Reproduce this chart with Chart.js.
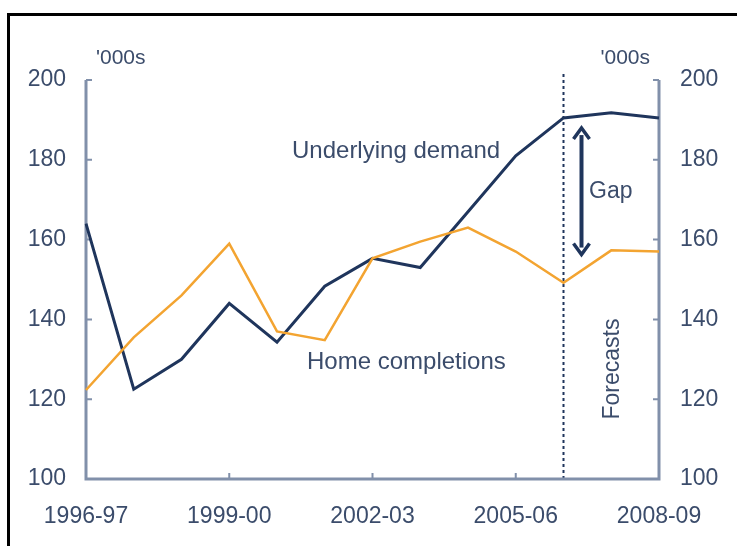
<!DOCTYPE html>
<html>
<head>
<meta charset="utf-8">
<script src="https://cdn.jsdelivr.net/npm/chart.js@4"></script>
<style>
  html, body { margin: 0; padding: 0; background: #fff; }
  #wrap { position: relative; width: 737px; height: 546px; }
  #frame { position: absolute; left: 7px; top: 13px; right: 0; bottom: 0;
           border-top: 3px solid #000; border-left: 3px solid #000; pointer-events: none; }
</style>
</head>
<body>
<div id="wrap">
  <canvas id="c" width="737" height="546"></canvas>
  <div id="frame"></div>
</div>
<script>
// financial years
var years = ['1996-97', '1997-98', '1998-99', '1999-00', '2000-01', '2001-02', '2002-03',
  '2003-04', '2004-05', '2005-06', '2006-07', '2007-08', '2008-09'];
// thousands of dwellings
var underlyingDemand = [164, 122.5, 130, 144, 134.3, 148.3, 155.3, 153, 167, 181, 190.5, 191.8, 190.5];
var homeCompletions = [122.3, 135.5, 146, 159, 137, 134.8, 155.3, 159.5, 163, 157, 149.2, 157.3, 157];
var yTicks = [100, 120, 140, 160, 180, 200];
var forecastStart = 10;

var NAVY = '#1f355c';
var ORANGE = '#f3a431';
var AXIS = '#8190aa';
var TEXT = '#3b4c6b';
var FONT = '"Liberation Sans", Arial, sans-serif';

var decorations = {
  id: 'decorations',
  beforeDatasetsDraw: function (chart) {
    var ctx = chart.ctx, x = chart.scales.x, y = chart.scales.y;
    var a = chart.chartArea;
    ctx.save();
    // forecast divider
    var fx = x.getPixelForValue(forecastStart);
    ctx.strokeStyle = NAVY;
    ctx.lineWidth = 2;
    ctx.setLineDash([3, 3]);
    ctx.beginPath();
    ctx.moveTo(fx, a.top - 6);
    ctx.lineTo(fx, a.bottom);
    ctx.stroke();
    ctx.setLineDash([]);
    // axes
    ctx.strokeStyle = AXIS;
    ctx.lineWidth = 3;
    ctx.beginPath();
    ctx.moveTo(a.left, a.top);
    ctx.lineTo(a.left, a.bottom);
    ctx.lineTo(a.right, a.bottom);
    ctx.lineTo(a.right, a.top);
    ctx.stroke();
    ctx.lineWidth = 2;
    ctx.beginPath();
    yTicks.forEach(function (v) {
      if (v === 100) return;
      var py = y.getPixelForValue(v);
      ctx.moveTo(a.left, py); ctx.lineTo(a.left + 6, py);
      ctx.moveTo(a.right, py); ctx.lineTo(a.right - 6, py);
    });
    [3, 6, 9].forEach(function (i) {
      var px = x.getPixelForValue(i);
      ctx.moveTo(px, a.bottom); ctx.lineTo(px, a.bottom - 6);
    });
    ctx.stroke();
    ctx.restore();
  },
  afterDatasetsDraw: function (chart) {
    var ctx = chart.ctx, x = chart.scales.x, y = chart.scales.y;
    var a = chart.chartArea;
    ctx.save();
    ctx.fillStyle = TEXT;
    ctx.font = '21px ' + FONT;
    ctx.textBaseline = 'middle';
    ctx.textAlign = 'left';
    ctx.fillText("'000s", a.left + 10, a.top - 22);
    ctx.textAlign = 'right';
    ctx.fillText("'000s", a.right - 9, a.top - 22);
    ctx.font = '24px ' + FONT;
    ctx.textAlign = 'left';
    ctx.fillText('Underlying demand', 292, 151);
    ctx.fillText('Home completions', 307, 362);
    ctx.font = '23px ' + FONT;
    ctx.fillText('Gap', 589, 192);
    ctx.save();
    ctx.translate(613, 369);
    ctx.rotate(-Math.PI / 2);
    ctx.textAlign = 'center';
    ctx.fillText('Forecasts', 0, 0);
    ctx.restore();
    // gap arrow
    var ax = x.getPixelForValue(forecastStart) + 18;
    var top = y.getPixelForValue(188.2), bot = y.getPixelForValue(156);
    ctx.strokeStyle = NAVY;
    ctx.fillStyle = NAVY;
    ctx.lineWidth = 4;
    ctx.beginPath();
    ctx.moveTo(ax, top + 8); ctx.lineTo(ax, bot - 8);
    ctx.stroke();
    ctx.lineWidth = 3.5;
    ctx.lineJoin = 'miter';
    ctx.beginPath();
    ctx.moveTo(ax - 8, top + 12); ctx.lineTo(ax, top + 1); ctx.lineTo(ax + 8, top + 12);
    ctx.moveTo(ax - 8, bot - 12); ctx.lineTo(ax, bot - 1); ctx.lineTo(ax + 8, bot - 12);
    ctx.stroke();
    ctx.restore();
  }
};

new Chart(document.getElementById('c'), {
  type: 'line',
  data: {
    labels: years,
    datasets: [
      { label: 'Home completions', data: homeCompletions, borderColor: ORANGE, borderWidth: 2.5,
        pointRadius: 0, tension: 0, yAxisID: 'y' },
      { label: 'Underlying demand', data: underlyingDemand, borderColor: NAVY, borderWidth: 3,
        pointRadius: 0, tension: 0, yAxisID: 'y' }
    ]
  },
  options: {
    responsive: false,
    animation: false,
    events: [],
    layout: { padding: { top: 80, right: 0, left: 0, bottom: 0 } },
    plugins: { legend: { display: false }, tooltip: { enabled: false } },
    scales: {
      x: {
        offset: false,
        border: { display: false },
        grid: { display: false, drawTicks: false },
        ticks: {
          autoSkip: false, maxRotation: 0, color: TEXT, padding: 24,
          font: { family: FONT, size: 23 },
          callback: function (v, i) { return i % 3 === 0 ? years[i] : ''; }
        },
        afterFit: function (s) { s.height = 67; }
      },
      y: {
        position: 'left', min: 100, max: 200,
        border: { display: false },
        grid: { display: false, drawTicks: false },
        afterBuildTicks: function (s) { s.ticks = yTicks.map(function (v) { return { value: v }; }); },
        ticks: { color: TEXT, padding: 20, font: { family: FONT, size: 23 } },
        afterFit: function (s) { s.width = 86; }
      },
      y2: {
        position: 'right', min: 100, max: 200,
        border: { display: false },
        grid: { display: false, drawTicks: false },
        afterBuildTicks: function (s) { s.ticks = yTicks.map(function (v) { return { value: v }; }); },
        ticks: { color: TEXT, padding: 21, font: { family: FONT, size: 23 } },
        afterFit: function (s) { s.width = 78; }
      }
    }
  },
  plugins: [decorations]
});
</script>
</body>
</html>
